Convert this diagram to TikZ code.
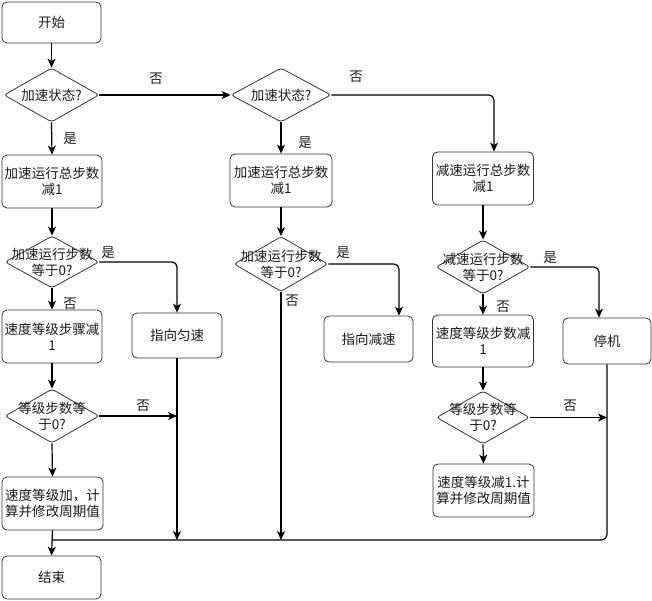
\documentclass[tikz,border=0pt]{standalone}
\usepackage{fontspec}
\setmainfont{Noto Sans CJK SC}
\usetikzlibrary{arrows.meta,shapes.geometric}
\definecolor{edgec}{HTML}{333333}
\definecolor{txtc}{HTML}{1A1A1A}
\tikzset{
  every node/.style={font=\fontsize{13.5}{16}\selectfont, text=txtc},
  box/.style={draw=edgec, line width=0.8pt, rounded corners=5pt, align=center, inner sep=0pt, fill=white},
  dia/.style={draw=edgec, line width=0.8pt, diamond, rounded corners=3pt, inner sep=0pt, fill=white},
  dtext/.style={align=center, inner sep=0pt},
  lbl/.style={inner sep=0pt},
  conn/.style={draw=black, line width=1.2pt, -{Stealth[length=9pt,width=8pt,inset=2.5pt]}},
  line/.style={draw=black, line width=1.2pt},
}
\begin{document}
\begin{tikzpicture}[x=1pt,y=-1pt]
\useasboundingbox (0,0) rectangle (652,600);
% boxes
\node[box, minimum width=99pt, minimum height=41pt] (start) at (51.5,22.5) {开始};
\node[box, minimum width=100pt, minimum height=53pt] (b1) at (52,181.5) {加速运行总步数\\减1};
\node[box, minimum width=102pt, minimum height=53pt] (b2) at (281,180.5) {加速运行总步数\\减1};
\node[box, minimum width=101pt, minimum height=53pt] (b3) at (483,178.5) {减速运行总步数\\减1};
\node[box, minimum width=100pt, minimum height=53pt] (b4) at (52,336.5) {速度等级步骤减\\1};
\node[box, minimum width=90pt, minimum height=45pt] (b5) at (177,335.5) {指向匀速};
\node[box, minimum width=89pt, minimum height=46pt] (b6) at (368.5,339) {指向减速};
\node[box, minimum width=101pt, minimum height=52pt] (b7) at (483,341) {速度等级步数减\\1};
\node[box, minimum width=88pt, minimum height=46pt] (b8) at (607,341) {停机};
\node[box, minimum width=101pt, minimum height=53pt] (b9) at (52.5,503.5) {速度等级加，计\\算并修改周期值};
\node[box, minimum width=101pt, minimum height=53pt] (b10) at (483.5,490.5) {速度等级减1.计\\算并修改周期值};
\node[box, minimum width=99pt, minimum height=43pt] (end) at (51.5,577.5) {结束};
% diamonds
\node[dia, minimum width=95pt, minimum height=54pt, label={[dtext]center:加速状态?}] (d1) at (51.5,95) {};
\node[dia, minimum width=100pt, minimum height=54pt, label={[dtext]center:加速状态?}] (d2) at (281,95) {};
\node[dia, minimum width=94pt, minimum height=52pt, label={[dtext]center:加速运行步数\\等于0?}] (d3) at (52,262) {};
\node[dia, minimum width=94pt, minimum height=55pt, label={[dtext]center:加速运行步数\\等于0?}] (d4) at (281,264) {};
\node[dia, minimum width=94pt, minimum height=54pt, label={[dtext]center:减速运行步数\\等于0?}] (d5) at (483,267) {};
\node[dia, minimum width=94pt, minimum height=54pt, label={[dtext]center:等级步数等\\于0?}] (d6) at (52,416) {};
\node[dia, minimum width=93pt, minimum height=53pt, label={[dtext]center:等级步数等\\于0?}] (d7) at (483,417.5) {};
% junction points
\coordinate (j1) at (52,540);
\coordinate (jm) at (281,540);
% connectors
\draw[conn] (start.south) -- (d1.north);
\draw[conn] (d1.east) -- (d2.west);
\draw[conn, rounded corners=5pt] (d2.east) -| ([xshift=11pt]b3.north);
\draw[conn] (d1.south) -- (b1.north);
\draw[conn] (d2.south) -- (b2.north);
\draw[conn] (b1.south) -- (d3.north);
\draw[conn] (b2.south) -- (d4.north);
\draw[conn] (b3.south) -- (d5.north);
\draw[conn, rounded corners=5pt] (d3.east) -| (b5.north);
\draw[conn] (d3.south) -- (b4.north);
\draw[conn, rounded corners=5pt] (d4.east) -| ([xshift=30.5pt]b6.north);
\draw[conn] (d4.south) -- (jm);
\draw[conn, rounded corners=5pt] (d5.east) -| ([xshift=-8pt]b8.north);
\draw[conn] (d5.south) -- (b7.north);
\draw[conn] (b4.south) -- (d6.north);
\draw[conn] (b5.south) -- (b5.south |- j1);
\draw[conn] (d6.east) -- (d6.east -| b5.south);
\draw[conn] (d6.south) -- (b9.north);
\draw[conn] (b9.south) -- (end.north);
\draw[conn] (b7.south) -- (d7.north);
\draw[conn] (d7.south) -- (b10.north);
\draw[conn] (d7.east) -- (d7.east -| b8.south);
\draw[line, rounded corners=6pt] (b8.south) |- (j1);
% labels
\node[lbl] (l1) at (156,79) {否};
\node[lbl] (l2) at (356,77) {否};
\node[lbl] (l3) at (70,139) {是};
\node[lbl] (l4) at (305,143) {是};
\node[lbl] (l5) at (108,253) {是};
\node[lbl] (l6) at (70,304) {否};
\node[lbl] (l7) at (343,253) {是};
\node[lbl] (l8) at (292,301) {否};
\node[lbl] (l9) at (550,258) {是};
\node[lbl] (l10) at (503,307) {否};
\node[lbl] (l11) at (143,406) {否};
\node[lbl] (l12) at (570,406) {否};
\end{tikzpicture}
\end{document}
